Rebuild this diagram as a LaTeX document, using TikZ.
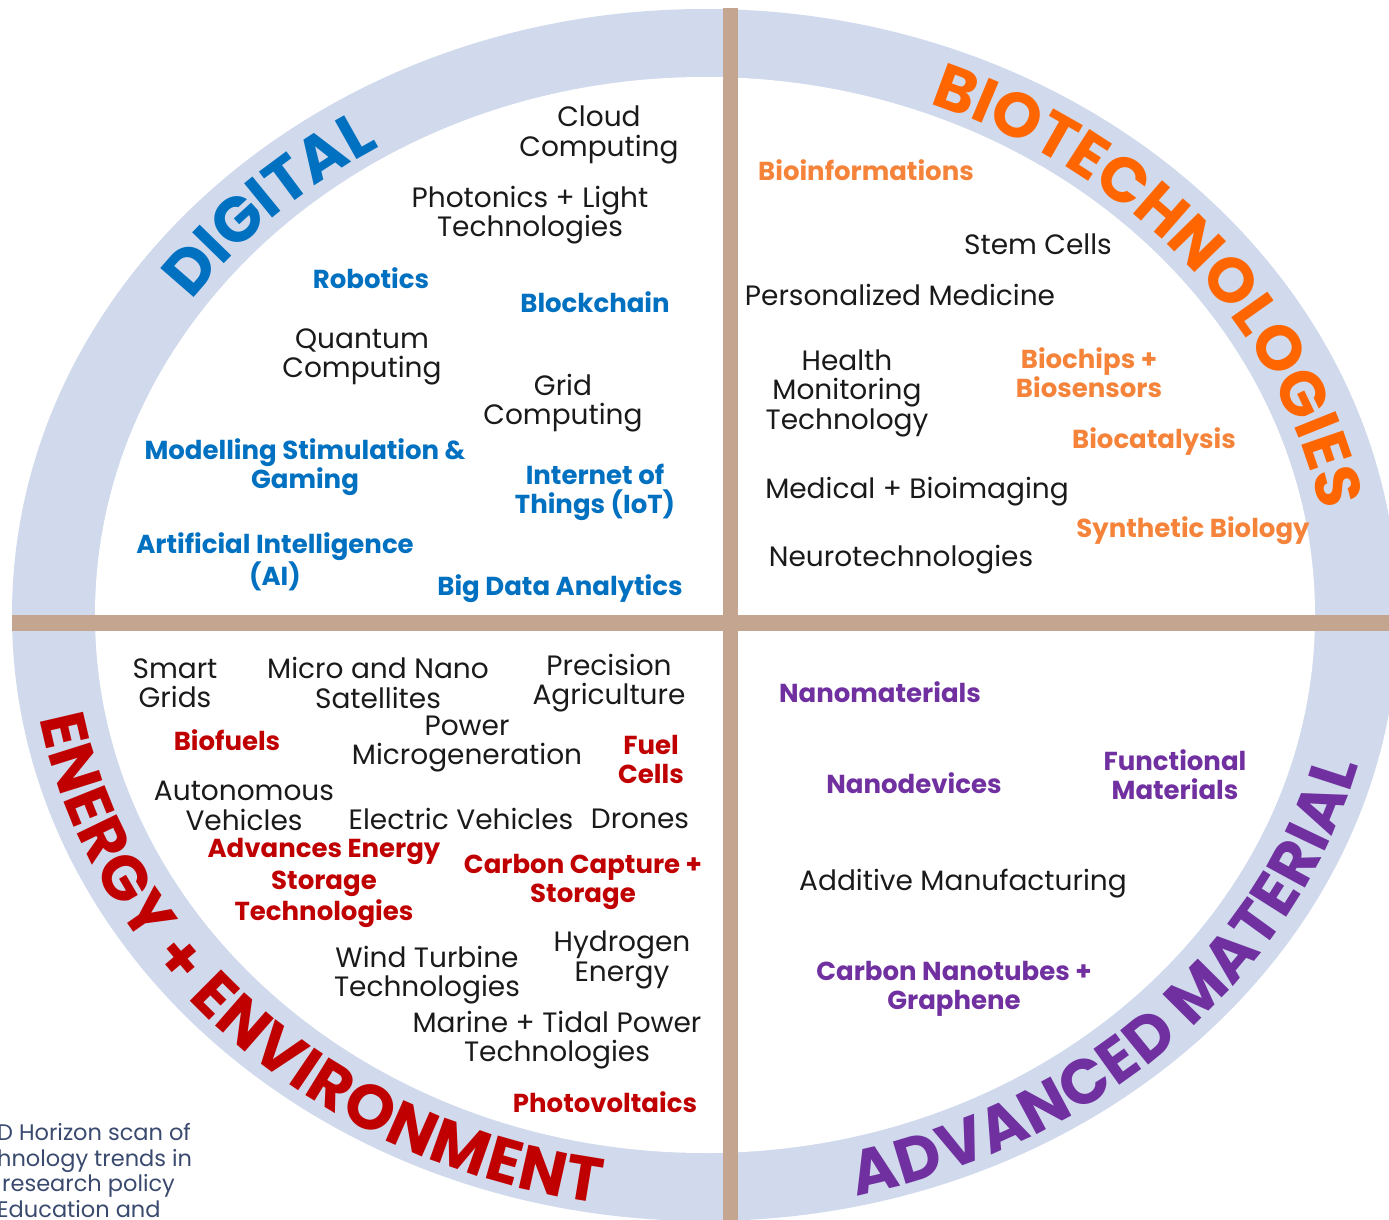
\documentclass[tikz,border=0pt]{standalone}
\usepackage{fontspec}
\setmainfont{Poppins}
\usetikzlibrary{decorations.text}
\definecolor{ringc}{HTML}{D0DAEC}
\definecolor{barc}{HTML}{C4A690}
\definecolor{dblue}{HTML}{0070C0}
\definecolor{borange}{HTML}{FF6600}
\definecolor{lorange}{HTML}{F5843A}
\definecolor{dred}{HTML}{C00000}
\definecolor{dpurple}{HTML}{7030A0}
\definecolor{txt}{HTML}{1A1A1A}
\definecolor{notec}{HTML}{3A4A6E}
\newcommand\ringfont{\fontsize{63}{63}\selectfont\bfseries}
\tikzset{
  item/.style={align=center, text=txt, inner sep=0pt, font=\fontsize{28}{29.5}\selectfont},
  bitem/.style={item, font=\fontsize{26}{29}\selectfont\bfseries},
  blueitem/.style={bitem, text=dblue},
  orangeitem/.style={bitem, text=lorange},
  reditem/.style={bitem, text=dred},
  purpleitem/.style={bitem, text=dpurple},
  ringlabel/.style={decorate, decoration={text along path, text align={fit to path}, text={#1}}}
}
\begin{document}
\begin{tikzpicture}[x=1pt,y=-1pt]
\useasboundingbox (0,0) rectangle (1389,1220);
% ring
\fill[ringc] (705,615) ellipse [x radius=693, y radius=606];
\fill[white] (705,615) ellipse [x radius=610, y radius=538];
% dividers
\fill[barc] (723,8) rectangle (738,1220);
\fill[barc] (12,615) rectangle (1389,631);
% ring labels
\path[shift={(705,615)}, ringlabel={|\ringfont\color{dblue}|DIGITAL}]
  (215:627 and 548) arc[start angle=215, end angle=238.5, x radius=627, y radius=548];
\path[shift={(705,615)}, ringlabel={|\ringfont\color{borange}|BIOTECHNOLOGIES}]
  (291:627 and 548) arc[start angle=291, end angle=349, x radius=627, y radius=548];
\path[shift={(705,615)}, ringlabel={|\ringfont\color{dred}|ENERGY + ENVIRONMENT}]
  (170:675 and 596) arc[start angle=170, end angle=99, x radius=675, y radius=596];
\path[shift={(705,615)}, ringlabel={|\ringfont\color{dpurple}|ADVANCED MATERIAL}]
  (77:675 and 596) arc[start angle=77, end angle=14.6, x radius=675, y radius=596];
% digital
\node[item] (cloud) at (599,135) {Cloud\\Computing};
\node[item] (phot) at (530,215) {Photonics + Light\\Technologies};
\node[blueitem] (robo) at (371,278) {Robotics};
\node[blueitem] (block) at (595,302) {Blockchain};
\node[item] (quant) at (362,357) {Quantum\\Computing};
\node[item] (grid) at (563,403) {Grid\\Computing};
\node[blueitem] (model) at (305,467) {Modelling Stimulation \&\\Gaming};
\node[blueitem] (iot) at (595,492) {Internet of\\Things (IoT)};
\node[blueitem] (ai) at (275,562) {Artificial Intelligence\\(AI)};
\node[blueitem] (bigdata) at (560,589) {Big Data Analytics};
% biotech
\node[orangeitem] (bioinf) at (866,170) {Bioinformations};
\node[item] (stem) at (1038,244) {Stem Cells};
\node[item] (pers) at (900,295) {Personalized Medicine};
\node[item] (health) at (847,393) {Health\\Monitoring\\Technology};
\node[orangeitem] (biochip) at (1089,373) {Biochips +\\Biosensors};
\node[orangeitem] (biocat) at (1154,442) {Biocatalysis};
\node[item] (medic) at (917,492) {Medical + Bioimaging};
\node[orangeitem] (synth) at (1193,531) {Synthetic Biology};
\node[item] (neuro) at (901,560) {Neurotechnologies};
% energy
\node[item] (smart) at (175,683) {Smart\\Grids};
\node[item] (micro) at (378,683) {Micro and Nano\\Satellites};
\node[item] (prec) at (609,683) {Precision\\Agriculture};
\node[reditem] (biofuel) at (227,740) {Biofuels};
\node[item] (power) at (467,744) {Power\\Microgeneration};
\node[reditem] (fuel) at (651,759) {Fuel\\Cells};
\node[item] (auto) at (244,806) {Autonomous\\Vehicles};
\node[item] (elec) at (461,819) {Electric Vehicles};
\node[item] (drones) at (640,819) {Drones};
\node[reditem, font=\fontsize{26}{31.5}\selectfont\bfseries] (storage) at (324,883) {Advances Energy\\Storage\\Technologies};
\node[reditem] (carbon) at (583,882) {Carbon Capture +\\Storage};
\node[item] (wind) at (427,975) {Wind Turbine\\Technologies};
\node[item] (hydro) at (622,960) {Hydrogen\\Energy};
\node[item] (marine) at (557,1040) {Marine + Tidal Power\\Technologies};
\node[reditem] (pv) at (605,1102) {Photovoltaics};
% advanced materials
\node[purpleitem] (nanomat) at (880,692) {Nanomaterials};
\node[purpleitem] (nanodev) at (914,783) {Nanodevices};
\node[purpleitem] (func) at (1175,775) {Functional\\Materials};
\node[item] (additive) at (963,884) {Additive Manufacturing};
\node[purpleitem] (cnt) at (954,989) {Carbon Nanotubes +\\Graphene};
% note
\node[anchor=north west, align=left, inner sep=0pt, text=notec, font=\fontsize{22.5}{25.7}\selectfont] (note) at (-3,1123) {D Horizon scan of\\hnology trends in\\\hspace*{5pt}research policy\\Education and};
\end{tikzpicture}
\end{document}
